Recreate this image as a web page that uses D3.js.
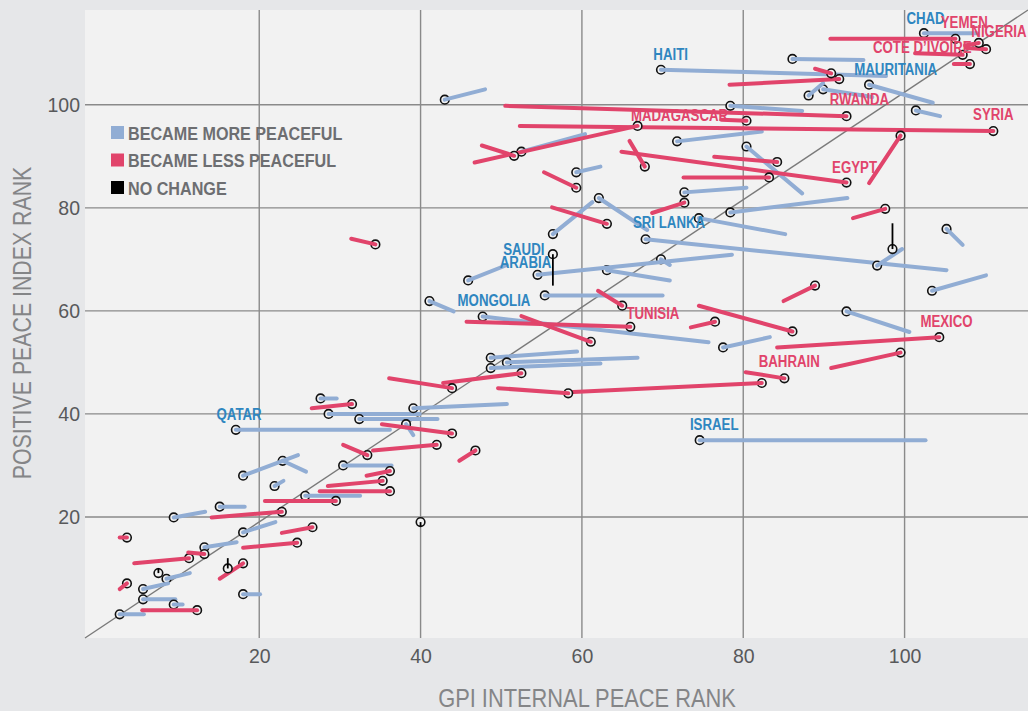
<!DOCTYPE html>
<html>
<head>
<meta charset="utf-8">
<script src="https://cdn.jsdelivr.net/npm/d3@7"></script>
<style>
  html, body { margin: 0; padding: 0; background: #e6e7e9; }
  svg { display: block; }
  text { font-family: "Liberation Sans", Arial, sans-serif; }
</style>
</head>
<body>
<svg id="chart" width="1028" height="711"></svg>
<script>
// Each row: [GPI internal rank, PPI rank, earlier GPI rank, earlier PPI rank]
const becameMorePeaceful = [
  [43, 101, 48, 103],
  [52.5, 90.9, 60.4, 94.3],
  [59.3, 86.9, 62.3, 88],
  [62.1, 81.9, 68.1, 75.7],
  [56.4, 74.9, 61.3, 81.1],
  [69.8, 106.8, 97.7, 105.6],
  [86.1, 108.9, 94.9, 108.7],
  [102.4, 113.9, 109, 113.9],
  [95.6, 103.9, 103.5, 100.4],
  [89.9, 103.0, 96, 101.5],
  [88.1, 101.8, 89.9, 104.2],
  [78.4, 99.8, 87.3, 98.8],
  [101.4, 98.9, 104.4, 97.8],
  [78.4, 79.1, 92.9, 81.9],
  [71.8, 92.9, 82.3, 94.8],
  [80.4, 91.9, 87.3, 82.8],
  [72.7, 83, 80.4, 83.9],
  [74.5, 78, 85.2, 74.9],
  [67.9, 73.9, 105.2, 67.9],
  [69.8, 70, 70.9, 68.9],
  [63.1, 67.9, 70.9, 65.9],
  [54.5, 67, 78.6, 70.9],
  [45.9, 65.9, 50.7, 68.9],
  [55.4, 63, 70, 63],
  [41.1, 61.9, 44.1, 59.9],
  [47.7, 58.9, 75.7, 53.9],
  [77.5, 52.9, 83.3, 54.9],
  [96.6, 68.8, 99.7, 72],
  [105.2, 75.9, 107.2, 72.8],
  [103.4, 63.9, 110.1, 66.9],
  [92.8, 59.9, 100.6, 55.9],
  [48.7, 50.9, 59.4, 52.1],
  [50.7, 50, 66.9, 50.9],
  [48.7, 48.9, 62.3, 49.8],
  [27.6, 43, 29.6, 43],
  [28.6, 40, 39.9, 40],
  [39.1, 41.1, 50.7, 41.9],
  [32.4, 39, 42.1, 39],
  [38.2, 38, 39.1, 35.9],
  [17.1, 36.9, 36.2, 36.9],
  [30.4, 30, 36.4, 30],
  [25.7, 24.1, 32.5, 24.1],
  [15.1, 22, 18.2, 22],
  [9.4, 19.9, 13.3, 21],
  [18, 17, 22, 19],
  [13.2, 14.1, 17.2, 15.1],
  [8.5, 8, 11.4, 9.1],
  [5.6, 6, 8.7, 7.1],
  [18, 5, 20.1, 5],
  [5.6, 4, 9.6, 4],
  [9.4, 3, 10.5, 3],
  [2.7, 1.1, 5.7, 1.1],
  [74.6, 34.9, 102.6, 34.9],
  [22.9, 30.9, 25.8, 28.8],
  [18, 28, 24.8, 32],
  [21.9, 26, 23, 27]
];

const becameLessPeaceful = [
  [92.8, 97.8, 50.5, 99.8],
  [111, 94.9, 52.3, 95.9],
  [66.9, 95.9, 46.7, 88.8],
  [51.6, 90.1, 47.6, 92.1],
  [59.3, 83.9, 55.3, 86.9],
  [63.1, 76.9, 56.3, 80.1],
  [91.9, 105, 78.3, 103.9],
  [90.9, 106.1, 88.9, 107],
  [106.3, 112.8, 90.8, 112.8],
  [110.1, 110.8, 107.7, 111],
  [109.2, 112.0, 107.5, 111.5],
  [107.2, 109.7, 101.3, 110],
  [108.1, 107.9, 106.1, 107.9],
  [80.4, 96.9, 77.3, 97.1],
  [99.5, 94, 95.6, 84.8],
  [92.8, 84.9, 64.9, 90.9],
  [97.6, 79.8, 93.6, 78],
  [67.8, 88, 65.9, 93],
  [84.2, 88.9, 76.4, 89.9],
  [83.2, 85.9, 72.6, 85.9],
  [72.7, 81, 68.7, 79],
  [34.4, 72.9, 31.4, 74],
  [66, 56.9, 45.7, 57.9],
  [61.1, 54, 52.5, 59],
  [65, 61, 62, 63.9],
  [76.5, 57.9, 73.5, 56.8],
  [86.1, 56, 74.5, 61],
  [104.3, 54.9, 84.2, 52.9],
  [88.9, 64.9, 85, 61.9],
  [99.5, 51.9, 90.9, 48.9],
  [85.1, 46.9, 80.3, 48.1],
  [82.3, 46, 58.3, 44.2],
  [58.3, 44, 49.6, 45],
  [52.5, 47.9, 42.8, 46],
  [43.9, 45, 36.1, 46.9],
  [31.5, 41.9, 26.5, 41.1],
  [43.9, 36.2, 35.2, 38],
  [42, 34, 34.1, 32.9],
  [33.4, 32, 30.4, 34],
  [46.8, 32.9, 44.8, 30.9],
  [36.2, 28.9, 33.3, 28],
  [35.3, 27, 28.5, 26],
  [36.2, 25, 27.5, 25],
  [29.5, 23.1, 20.7, 23.1],
  [22.8, 21, 14.1, 19.9],
  [26.6, 18, 22.8, 16.9],
  [24.7, 15, 18, 14],
  [3.6, 16, 2.7, 16],
  [11.3, 12, 4.5, 11],
  [13.2, 12.8, 11.2, 13.1],
  [18, 11, 15.1, 8],
  [3.6, 7.1, 2.7, 6],
  [12.3, 1.9, 5.5, 1.9]
];

const noChange = [
  [56.4, 71, 56.4, 64.9],
  [98.5, 72, 98.5, 77],
  [40, 19, 40, 18.1],
  [7.5, 9.1, 7.5, 10.1],
  [16.1, 10, 16.1, 12]
];

// Country callouts: [name, group, GPI anchor, PPI anchor]
const countryLabels = [
  ["HAITI", "more", 71, 108.7],
  ["CHAD", "more", 102.6, 115.7],
  ["YEMEN", "less", 107.4, 114.9],
  ["NIGERIA", "less", 111.7, 113.2],
  ["COTE D\u2019IVOIRE", "less", 102.2, 110.1],
  ["MAURITANIA", "more", 98.9, 105.8],
  ["RWANDA", "less", 94.4, 100.0],
  ["SYRIA", "less", 111.0, 97.1],
  ["EGYPT", "less", 93.8, 86.8],
  ["MADAGASCAR", "less", 72.1, 96.9],
  ["SRI LANKA", "more", 70.8, 76.0],
  ["SAUDI", "more", 52.8, 70.9],
  ["ARABIA", "more", 53.0, 68.3],
  ["MONGOLIA", "more", 49.1, 61.0],
  ["TUNISIA", "less", 68.8, 58.4],
  ["MEXICO", "less", 105.2, 56.9],
  ["BAHRAIN", "less", 85.7, 49.2],
  ["ISRAEL", "more", 76.4, 36.9],
  ["QATAR", "more", 17.5, 38.8]
];

const legendItems = ["BECAME MORE PEACEFUL", "BECAME LESS PEACEFUL", "NO CHANGE"];
const xTicks = [20, 40, 60, 80, 100];
const yTicks = [20, 40, 60, 80, 100];
const xTitle = "GPI INTERNAL PEACE RANK";
const yTitle = "POSITIVE PEACE INDEX RANK";

const colors = { more: "#91add4", less: "#e1446b", same: "#000000" };
const labelColors = { more: "#2f86c0", less: "#e1446b" };

const svg = d3.select("#chart");
const W = 1028, H = 711;
const plot = { left: 85, right: 1028, top: 10, bottom: 638 };

const x = d3.scaleLinear().domain([-1.6, 115.3]).range([plot.left, plot.right]);
const y = d3.scaleLinear().domain([-3.5, 118.4]).range([plot.bottom, plot.top]);

// condensed lettering: horizontally squeezed sans
function narrowText(sel, sx) {
  sel.attr("transform", function () {
    const t = d3.select(this);
    const px = +t.attr("data-x"), py = +t.attr("data-y");
    return `translate(${px},${py}) scale(${sx},1)`;
  });
}

svg.append("rect").attr("width", W).attr("height", H).attr("fill", "#e6e7e9");
svg.append("rect")
  .attr("x", plot.left).attr("y", plot.top)
  .attr("width", plot.right - plot.left).attr("height", plot.bottom - plot.top)
  .attr("fill", "#f2f2f2");

// grid
const grid = svg.append("g");
grid.selectAll("line.gx").data(xTicks).join("line")
  .attr("x1", d => x(d)).attr("x2", d => x(d))
  .attr("y1", plot.top).attr("y2", plot.bottom)
  .attr("stroke", "#8a8a8a").attr("stroke-width", 1.4);
grid.selectAll("line.gy").data(yTicks).join("line")
  .attr("y1", d => y(d)).attr("y2", d => y(d))
  .attr("x1", plot.left).attr("x2", plot.right)
  .attr("stroke", "#8a8a8a").attr("stroke-width", 1.4);

// diagonal reference
const [x0, x1] = x.domain(), [y0, y1] = y.domain();
svg.append("line")
  .attr("x1", x(x0)).attr("y1", y(y0)).attr("x2", x(x1)).attr("y2", y(y1))
  .attr("stroke", "#7a7a7a").attr("stroke-width", 1.4);

// axis tick labels
const xAxis = d3.axisBottom(x).tickValues(xTicks).tickSize(0).tickPadding(0);
const gx = svg.append("g").attr("transform", `translate(0,${plot.bottom + 25})`).call(xAxis);
gx.select(".domain").remove();
gx.selectAll("text").attr("font-size", 19.5).attr("fill", "#58595b")
  .attr("font-family", "Liberation Sans, Arial, sans-serif").attr("dy", 0);

const yAxis = d3.axisLeft(y).tickValues(yTicks).tickSize(0).tickPadding(0);
const gy = svg.append("g").attr("transform", `translate(${plot.left - 5},0)`).call(yAxis);
gy.select(".domain").remove();
gy.selectAll("text").attr("font-size", 19.5).attr("fill", "#58595b")
  .attr("font-family", "Liberation Sans, Arial, sans-serif");

// axis titles
svg.append("text").attr("transform", "translate(587,707) scale(0.84,1)")
  .attr("text-anchor", "middle").attr("font-size", 26).attr("fill", "#848587")
  .text(xTitle);
svg.append("text")
  .attr("transform", "translate(31,323) rotate(-90) scale(0.82,1)")
  .attr("text-anchor", "middle").attr("font-size", 26).attr("fill", "#848587")
  .text(yTitle);

// country marks: circle at the current position, tail back to the earlier one
const rows = [
  ...becameMorePeaceful.map(r => ({ r, g: "more" })),
  ...becameLessPeaceful.map(r => ({ r, g: "less" })),
  ...noChange.map(r => ({ r, g: "same" }))
];
const marks = svg.append("g").selectAll("g").data(rows).join("g");
marks.append("circle")
  .attr("cx", d => x(d.r[0])).attr("cy", d => y(d.r[1]))
  .attr("r", 4.3).attr("fill", "#f2f2f2").attr("stroke", "#111").attr("stroke-width", 1.6);
marks.append("line")
  .attr("x1", d => x(d.r[0])).attr("y1", d => y(d.r[1]))
  .attr("x2", d => x(d.r[2])).attr("y2", d => y(d.r[3]))
  .attr("stroke", d => colors[d.g])
  .attr("stroke-width", d => d.g === "same" ? 1.8 : 4)
  .attr("stroke-linecap", d => d.g === "same" ? "butt" : "round");

// callouts
svg.append("g").selectAll("text").data(countryLabels).join("text")
  .attr("data-x", d => x(d[2])).attr("data-y", d => y(d[3]))
  .attr("text-anchor", "middle")
  .attr("font-size", 17).attr("font-weight", "bold")
  .attr("fill", d => labelColors[d[1]])
  .text(d => d[0])
  .call(narrowText, 0.78);

// legend
const legend = svg.append("g").attr("transform", "translate(111,126)");
const legendColors = [colors.more, colors.less, colors.same];
const li = legend.selectAll("g").data(legendItems).join("g")
  .attr("transform", (d, i) => `translate(0,${i * 27.5})`);
li.append("rect").attr("width", 13).attr("height", 13).attr("fill", (d, i) => legendColors[i]);
li.append("text").attr("data-x", 17).attr("data-y", 13.5)
  .attr("font-size", 19).attr("font-weight", "bold").attr("fill", "#6d6e71")
  .text(d => d)
  .call(narrowText, 0.85);
</script>
</body>
</html>
